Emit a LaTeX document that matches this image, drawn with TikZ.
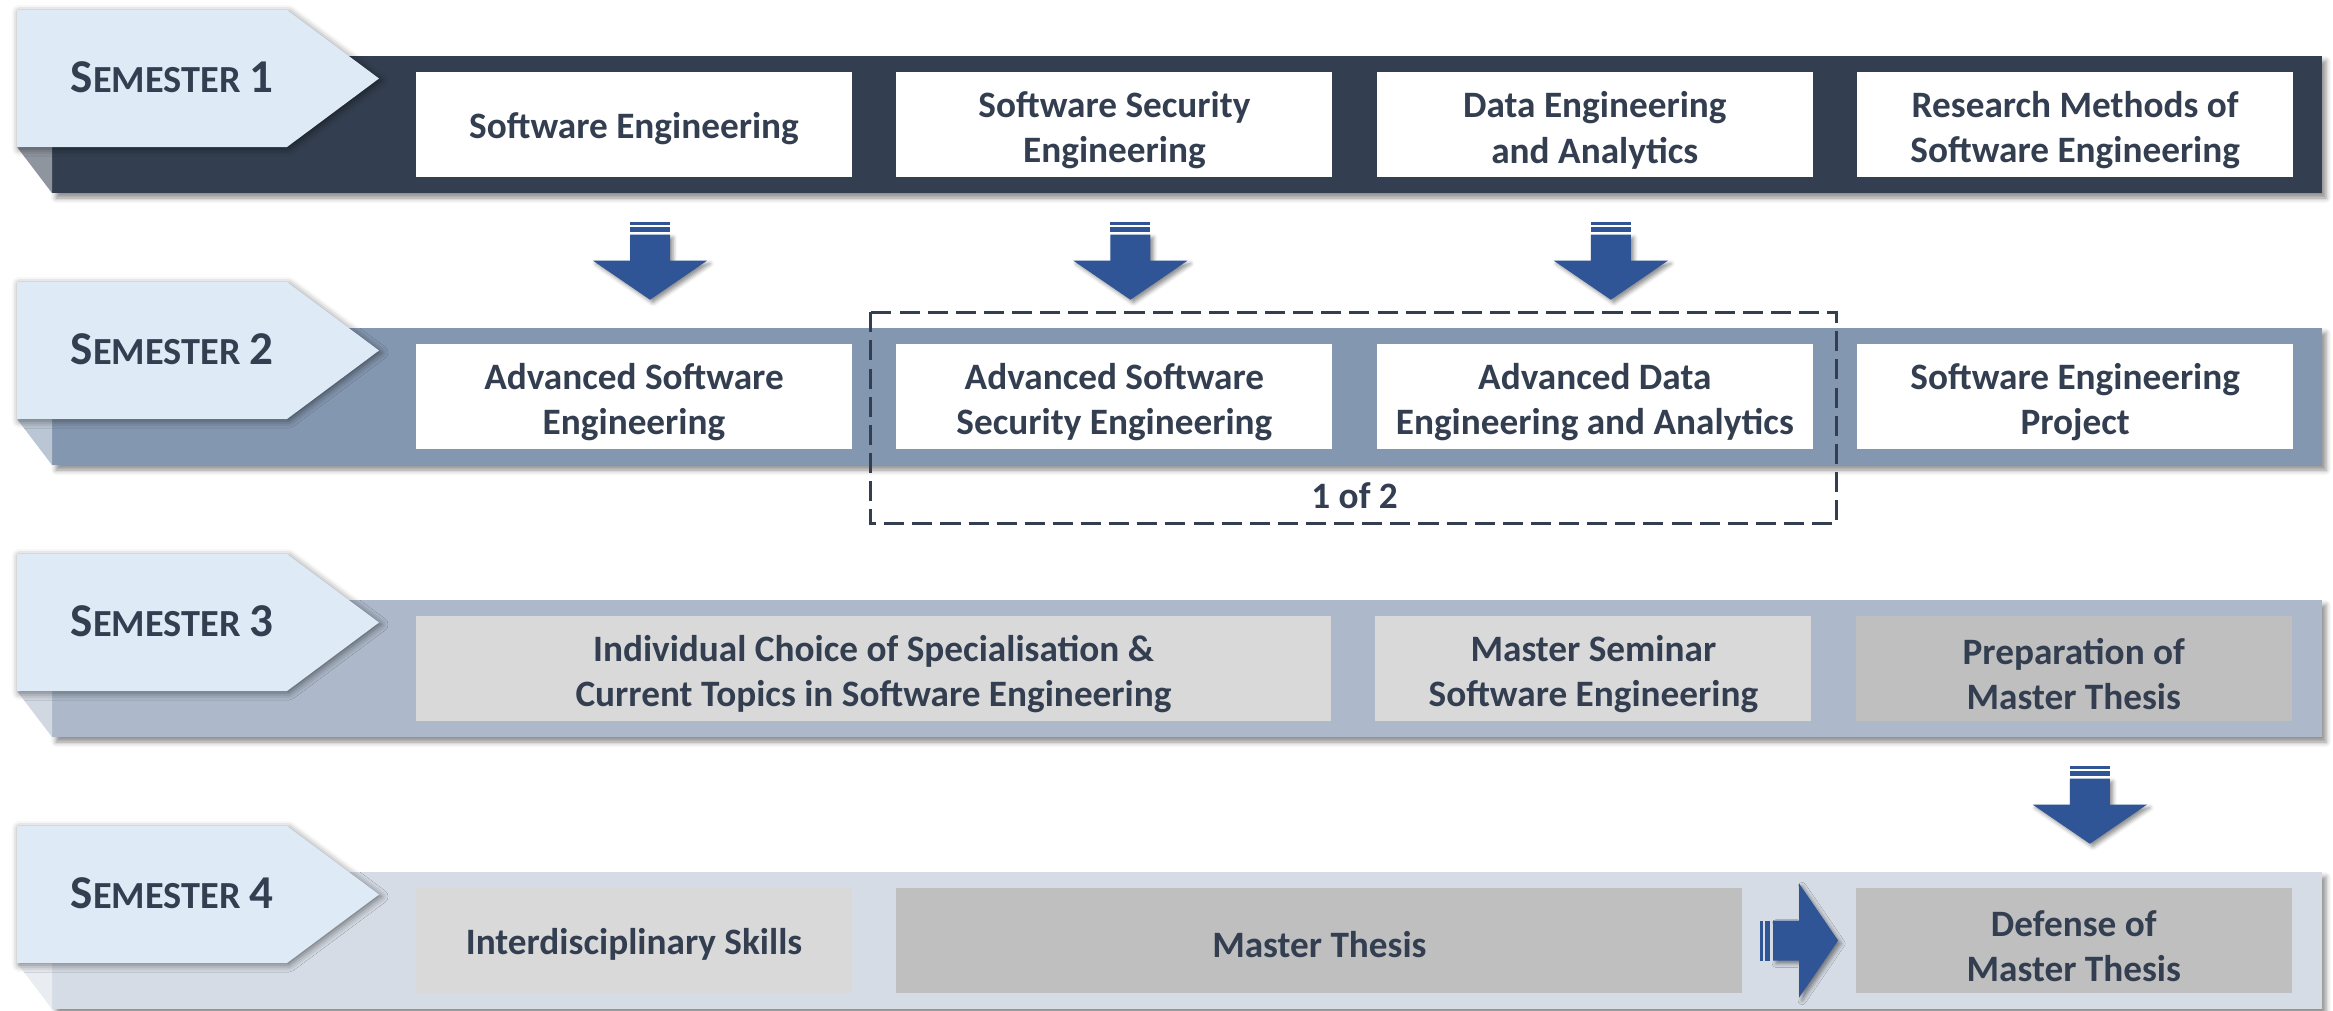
\documentclass[tikz,border=0pt]{standalone}
\usepackage{fontspec}
\setmainfont{Carlito}
\usetikzlibrary{positioning,calc,shadows.blur}

\definecolor{navy}{HTML}{333F50}
\definecolor{semA}{HTML}{333F50}
\definecolor{semB}{HTML}{8497B0}
\definecolor{semC}{HTML}{ADB9CA}
\definecolor{semD}{HTML}{D6DCE5}
\definecolor{tabblue}{HTML}{DEEBF7}
\definecolor{arrowblue}{HTML}{2F5597}
\definecolor{greyA}{HTML}{D9D9D9}
\definecolor{greyB}{HTML}{BFBFBF}

\newcommand{\coursefont}{\fontsize{10.6}{12.9}\selectfont\bfseries}
\newcommand{\semname}[1]{{\fontsize{13.4}{16}\selectfont S}{\fontsize{10.9}{16}\selectfont EMESTER }{\fontsize{13.4}{16}\selectfont #1}}

\tikzset{
  band/.style={rectangle,inner sep=0pt,minimum width=22.70cm,minimum height=1.37cm,
    blur shadow={shadow xshift=0.04cm,shadow yshift=-0.05cm,shadow blur radius=0.05cm,shadow opacity=45}},
  tabshadow/.style={blur shadow={shadow xshift=0.02cm,shadow yshift=-0.02cm,shadow blur radius=0.07cm,shadow opacity=50}},
  arrowshadow/.style={blur shadow={shadow xshift=0.03cm,shadow yshift=-0.03cm,shadow blur radius=0.04cm,shadow opacity=45}},
  semlabel/.style={inner sep=0pt,font=\bfseries,text=navy},
  course/.style={rectangle,inner sep=0pt,minimum width=4.36cm,minimum height=1.05cm,
    align=center,text=navy,font=\coursefont,fill=white,
    execute at begin node={\rule{0pt}{#1}}},
  course/.default=9.9pt,
  choice/.style={draw=navy,line width=0.8pt,dash pattern=on 5.7pt off 2.3pt},
  downarrow/.pic={
    \fill[arrowblue] (-0.2,0) rectangle (0.2,-0.03);
    \fill[arrowblue] (-0.2,-0.05) rectangle (0.2,-0.10);
    \fill[arrowblue,arrowshadow] (-0.2,-0.13) -- (0.2,-0.13) -- (0.2,-0.39) -- (0.57,-0.39)
      -- (0,-0.78) -- (-0.57,-0.39) -- (-0.2,-0.39) -- cycle;
  }
}

\begin{document}
\begin{tikzpicture}
\useasboundingbox (0,0) rectangle (23.33,-10.10);

% semester bands with their tabs
\foreach \row/\col in {1/semA,2/semB,3/semC,4/semD}{
  \pgfmathsetmacro\bandtop{-0.56-(\row-1)*2.72}
  \node[band,fill=\col] (band\row) at (11.87,\bandtop-0.685) {};
  \fill[\col!55!white] (0.17,\bandtop-0.91) -- (0.52,\bandtop-0.91) -- (0.52,\bandtop-1.37) -- cycle;
  \fill[tabblue,tabshadow] (0.17,\bandtop+0.46) -- (2.87,\bandtop+0.46) -- (3.79,\bandtop-0.225)
    -- (2.87,\bandtop-0.91) -- (0.17,\bandtop-0.91) -- cycle;
  \node[semlabel] (sem\row) at (1.72,\bandtop-0.21) {\semname{\row}};
}

% semester 1
\node[course,right=3.64cm of band1.west] (se) {Software Engineering};
\node[course=23.6pt,right=0.43cm of se] (sse) {Software Security\\Engineering};
\node[course=23.6pt,right=0.43cm of sse] (dea) {Data Engineering\\and Analytics};
\node[course=23.6pt,right=0.43cm of dea] (rm) {Research Methods of\\Software Engineering};

% semester 2
\node[course=23.6pt,right=3.64cm of band2.west] (ase) {Advanced Software\\Engineering};
\node[course=23.6pt,right=0.43cm of ase] (asse) {Advanced Software\\Security Engineering};
\node[course=23.6pt,right=0.43cm of asse] (adea) {Advanced Data\\Engineering and Analytics};
\node[course=23.6pt,right=0.43cm of adea] (sep) {Software Engineering\\Project};

% semester 3
\node[course=23.6pt,fill=greyA,minimum width=9.15cm,right=3.64cm of band3.west] (indiv) {Individual Choice of Specialisation \&\\Current Topics in Software Engineering};
\node[course=23.6pt,fill=greyA,right=0.43cm of indiv] (ms) {Master Seminar\\Software Engineering};
\node[course=23.6pt,fill=greyB,right=0.43cm of ms] (prep) {Preparation of\\Master Thesis};

% semester 4
\node[course,fill=greyA,right=3.64cm of band4.west] (ids) {Interdisciplinary Skills};
\node[course,fill=greyB,minimum width=8.46cm,right=0.43cm of ids] (thesis) {Master Thesis};
\node[course=23.6pt,fill=greyB,right=1.12cm of thesis] (defense) {Defense of\\Master Thesis};

% elective group
\draw[choice] ($(asse.north west)+(-0.25,0.31)$) rectangle ($(adea.south east)+(0.23,-0.74)$);
\node[course=0pt,fill=none,minimum width=0pt,minimum height=0pt] (oneoftwo)
  at ($(asse.south east)!0.5!(adea.south west)+(0,-0.46)$) {1 of 2};

% block arrows
\pic at ($(se.south)+(0.16,-0.44)$) {downarrow};
\pic at ($(sse.south)+(0.16,-0.44)$) {downarrow};
\pic at ($(dea.south)+(0.16,-0.44)$) {downarrow};
\pic at ($(prep.south)+(0.16,-0.44)$) {downarrow};
\pic[rotate=90] at ($(thesis.east)+(0.17,0)$) {downarrow};

\end{tikzpicture}
\end{document}
